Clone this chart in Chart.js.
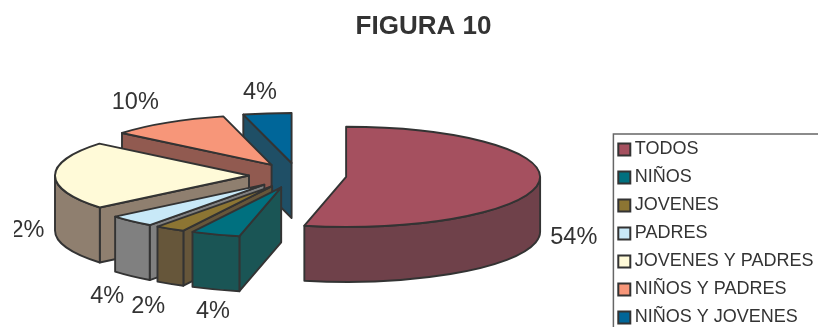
<!DOCTYPE html>
<html>
<head>
<meta charset="utf-8">
<title>FIGURA 10</title>
<script src="https://cdn.jsdelivr.net/npm/chart.js@4"></script>
<style>
  html, body { margin: 0; padding: 0; background: #fff; }
  #wrap { width: 818px; height: 327px; overflow: hidden; }
</style>
</head>
<body>
<div id="wrap"><canvas id="myChart"></canvas></div>
<script>
const categories = ['TODOS', 'NIÑOS', 'JOVENES', 'PADRES', 'JOVENES Y PADRES', 'NIÑOS Y PADRES', 'NIÑOS Y JOVENES'];
// slice sizes as measured on the picture, printed labels are kept apart
const values = [53.4, 4.1, 2.5, 3.9, 22, 10, 4];
const percentLabels = ['54%', '4%', '2%', '4%', '22%', '10%', '4%'];
const topColors = ['#a5505f', '#00707f', '#8c7533', '#c8e9f8', '#fffad8', '#f79679', '#006699'];
const wallColors = ['#6f414a', '#1a5555', '#66563a', '#808080', '#8f7f6f', '#915a50', '#1f4f66'];

// fake 3D: the pie is squashed and every slice is pushed out along its middle angle
const centerX = 297.7, centerY = 175.5;
const radius = 194, squash = 0.258, depth = 55, explode = 48.7;
const lineColor = '#333333', textColor = '#333333';
const labelShiftX = [1, 9, -4, -1, 0, -14, -3];
const labelShiftY = [-2, 0, 2, 3, 0, 0, 3];

function sliceOrigin(arc) {
    const mid = (arc.startAngle + arc.endAngle) / 2;
    return {
        x: centerX + Math.cos(mid) * explode,
        y: centerY + Math.sin(mid) * explode * squash
    };
}

function pointAt(o, angle, r, drop) {
    return { x: o.x + Math.cos(angle) * r, y: o.y + Math.sin(angle) * r * squash + drop };
}

function paintPath(ctx, fill) {
    ctx.fillStyle = fill;
    ctx.fill();
    ctx.stroke();
}

function drawRadialWall(ctx, arc, o, angle, color) {
    const a = pointAt(o, angle, 0, 0), b = pointAt(o, angle, arc.outerRadius, 0);
    ctx.beginPath();
    ctx.moveTo(a.x, a.y);
    ctx.lineTo(b.x, b.y);
    ctx.lineTo(b.x, b.y + depth);
    ctx.lineTo(a.x, a.y + depth);
    ctx.closePath();
    paintPath(ctx, color);
}

function drawSlice(ctx, arc, color) {
    const o = sliceOrigin(arc);
    const r = arc.outerRadius;

    if (Math.cos(arc.startAngle) < 0) drawRadialWall(ctx, arc, o, arc.startAngle, color);
    if (Math.cos(arc.endAngle) > 0) drawRadialWall(ctx, arc, o, arc.endAngle, color);

    // outer wall, only the part that faces the viewer
    const lo = Math.max(arc.startAngle, 0), hi = Math.min(arc.endAngle, Math.PI);
    if (hi > lo) {
        ctx.beginPath();
        ctx.ellipse(o.x, o.y, r, r * squash, 0, lo, hi);
        ctx.ellipse(o.x, o.y + depth, r, r * squash, 0, hi, lo, true);
        ctx.closePath();
        paintPath(ctx, color);
    }

    // top face comes from the library's own arc element
    ctx.save();
    ctx.translate(o.x, o.y);
    ctx.scale(1, squash);
    ctx.translate(-arc.x, -arc.y);
    arc.draw(ctx);
    ctx.restore();

    ctx.beginPath();
    ctx.moveTo(o.x, o.y);
    ctx.ellipse(o.x, o.y, r, r * squash, 0, arc.startAngle, arc.endAngle);
    ctx.closePath();
    ctx.stroke();
}

const pie3d = {
    id: 'pie3d',
    afterLayout(chart) {
        const legend = chart.legend, title = chart.titleBlock;
        legend.left = 612.8;
        legend.right = 830;
        legend.top = 130.5;
        legend.bottom = 400;
        title.left += 14.5;
        title.right += 14.5;
    },
    beforeDatasetDraw(chart, args) {
        const ctx = chart.ctx;
        const arcs = args.meta.data;
        ctx.save();
        ctx.strokeStyle = lineColor;
        ctx.lineWidth = 1.9;
        ctx.lineJoin = 'round';
        for (let i = arcs.length - 1; i >= 0; i--) {
            drawSlice(ctx, arcs[i], wallColors[i]);
        }
        ctx.restore();
        return false;
    },
    afterDatasetsDraw(chart) {
        const ctx = chart.ctx;
        const arcs = chart.getDatasetMeta(0).data;
        ctx.save();
        ctx.beginPath();
        ctx.rect(14, 0, 804, 327);
        ctx.clip();
        ctx.font = '23.5px "Liberation Sans"';
        ctx.fillStyle = textColor;
        ctx.textAlign = 'center';
        ctx.textBaseline = 'middle';
        arcs.forEach((arc, i) => {
            const mid = (arc.startAngle + arc.endAngle) / 2;
            const p = pointAt(sliceOrigin(arc), mid, arc.outerRadius, 0);
            const sin = Math.sin(mid);
            const x = p.x + 34 * Math.cos(mid) + labelShiftX[i];
            const y = p.y + 24 * sin + labelShiftY[i] + (sin > -0.5 ? depth : 0);
            ctx.fillText(percentLabels[i], x, y);
        });
        ctx.restore();
    },
    afterDraw(chart) {
        const ctx = chart.ctx;
        ctx.save();
        ctx.strokeStyle = '#666666';
        ctx.lineWidth = 1.5;
        ctx.strokeRect(613.4, 134, 300, 300);
        ctx.restore();
    }
};

const myChart = new Chart(document.getElementById('myChart').getContext('2d'), {
    type: 'pie',
    data: {
        labels: categories,
        datasets: [{
            data: values,
            backgroundColor: topColors,
            borderWidth: 0,
            radius: radius
        }]
    },
    options: {
        responsive: true,
        maintainAspectRatio: false,
        animation: false,
        plugins: {
            title: {
                display: true,
                text: 'FIGURA 10',
                color: textColor,
                font: { family: '"Liberation Sans"', size: 26, weight: 'bold' },
                padding: { top: 11, bottom: 4 }
            },
            legend: {
                position: 'right',
                align: 'start',
                labels: {
                    color: textColor,
                    font: { family: '"Liberation Sans"', size: 18 },
                    usePointStyle: true,
                    pointStyle: 'rect',
                    boxWidth: 3,
                    boxHeight: 12,
                    padding: 10,
                    generateLabels(chart) {
                        const items = Chart.overrides.doughnut.plugins.legend.labels.generateLabels(chart);
                        items.forEach(item => {
                            item.strokeStyle = lineColor;
                            item.lineWidth = 2;
                        });
                        return items;
                    }
                }
            },
            tooltip: { enabled: false }
        }
    },
    plugins: [pie3d]
});
</script>
</body>
</html>
